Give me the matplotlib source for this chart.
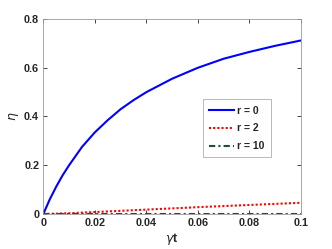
import matplotlib
matplotlib.use("Agg")
import matplotlib.pyplot as plt

x_r0 = [0, 0.0025, 0.005, 0.0075, 0.01, 0.015, 0.02, 0.025, 0.03, 0.035, 0.04, 0.05, 0.06, 0.07, 0.08, 0.09, 0.1]
y_r0 = [0, 0.06, 0.112, 0.159, 0.20, 0.275, 0.335, 0.385, 0.43, 0.467, 0.50, 0.555, 0.60, 0.637, 0.665, 0.69, 0.712]
x_r2 = [0, 0.01, 0.02, 0.04, 0.06, 0.08, 0.1]
y_r2 = [0, 0.003, 0.008, 0.018, 0.028, 0.037, 0.046]
x_r10 = [0, 0.05, 0.1]
y_r10 = [0, 0.0, 0.0]
labels = ["r = 0", "r = 2", "r = 10"]
xticks = [0, 0.02, 0.04, 0.06, 0.08, 0.1]
xticklabels = ["0", "0.02", "0.04", "0.06", "0.08", "0.1"]
yticks = [0, 0.2, 0.4, 0.6, 0.8]
yticklabels = ["0", "0.2", "0.4", "0.6", "0.8"]

plt.rcParams['font.family'] = ['Liberation Sans', 'DejaVu Sans']
fig = plt.figure(figsize=(3.32, 2.49), dpi=100)
ax = fig.add_axes([0.1305, 0.1406, 0.9066 - 0.1305, 0.9237 - 0.1406])
ax.plot(x_r0, y_r0, color='#0000ff', lw=1.5, label=labels[0])
ax.plot(x_r2, y_r2, color='#ff0000', lw=1.5, ls=(0, (1, 1)), label=labels[1])
ax.plot(x_r10, y_r10, color='#1f4f3a', lw=1.5, ls=(0, (3, 1.5, 1, 1.5)), label=labels[2])
ax.set_xlim(0, 0.1)
ax.set_ylim(0, 0.8)
ax.set_xticks(xticks)
ax.set_xticklabels(xticklabels)
ax.set_yticks(yticks)
ax.set_yticklabels(yticklabels)
ax.tick_params(direction='in', top=True, right=True, length=3, width=0.6,
               colors='#262626', labelsize=7.8, pad=3)
for lab in ax.get_xticklabels() + ax.get_yticklabels():
    lab.set_fontweight('bold')
for s in ax.spines.values():
    s.set_color('#9a9a9a')
    s.set_linewidth(0.6)
ax.set_xlabel('$\\gamma$t', fontsize=9, fontweight='bold', color='#262626', labelpad=2)
ax.set_ylabel('$\\eta$', fontsize=9, color='#262626', labelpad=2)
leg = ax.legend(loc='upper left', bbox_to_anchor=(0.618, 0.588), fontsize=7.5,
                frameon=True, fancybox=False, edgecolor='#9a9a9a',
                handlelength=2.4, handletextpad=0.3, borderpad=0.6, labelspacing=0.75,
                borderaxespad=0)
leg.get_frame().set_linewidth(0.6)
for t in leg.get_texts():
    t.set_fontweight('bold')
    t.set_color('#262626')
fig.savefig('out.png', dpi=100)
